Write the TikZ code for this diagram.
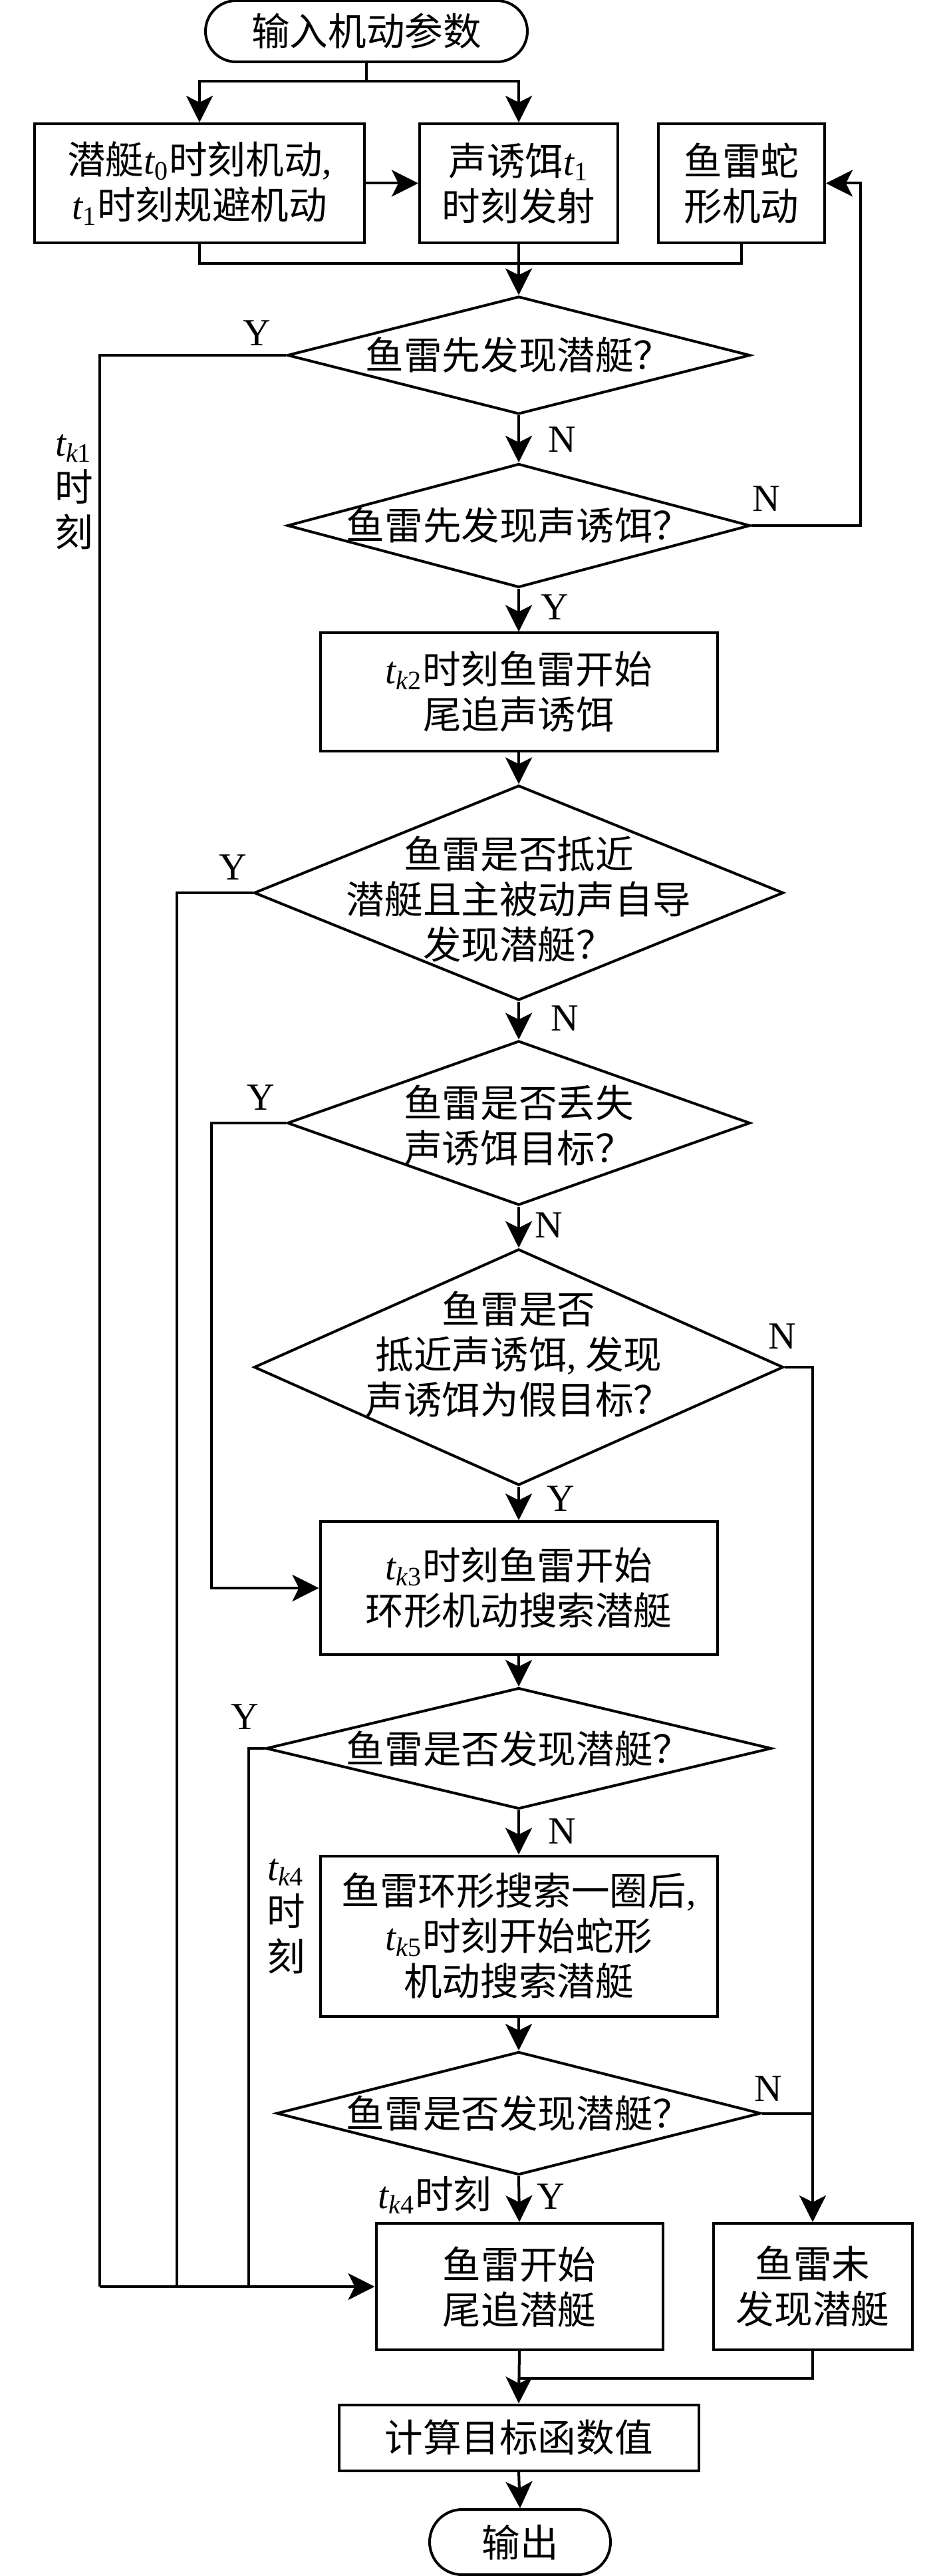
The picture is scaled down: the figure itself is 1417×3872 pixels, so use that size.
\documentclass[tikz,border=0pt]{standalone}
\usepackage{fontspec}
\setmainfont{Noto Sans CJK SC}
\newfontfamily\lat{Liberation Serif}
\usetikzlibrary{shapes.geometric,arrows.meta}
\newcommand\tsub[1]{{\lat\itshape t}\textsubscript{\lat #1}}
\begin{document}
\begin{tikzpicture}[x=0.25pt,y=-0.25pt,line width=1pt,
  >={Stealth[length=10pt,width=10pt,inset=2.5pt]},
  every node/.style={font=\fontsize{14.4pt}{17pt}\selectfont,inner sep=0pt},
  proc/.style={draw,rectangle,align=center},
  term/.style={draw,rectangle,rounded corners=11.5pt,align=center},
  dia/.style={draw,diamond},
  txt/.style={align=center},
  yn/.style={font=\fontsize{14.4pt}{17pt}\selectfont\lat}]
\useasboundingbox (0,0) rectangle (1417,3872);

% nodes
\node[term,minimum width=121pt,minimum height=23pt] (start) at (551,47) {输入机动参数};
\node[proc,minimum width=124pt,minimum height=44.75pt] (b1) at (300,275.5)
  {潜艇\tsub{0}时刻机动{\lat ,}\\\tsub{1}时刻规避机动};
\node[proc,minimum width=74.5pt,minimum height=44.75pt] (b2) at (780,275.5)
  {声诱饵\tsub{1}\\时刻发射};
\node[proc,minimum width=62.5pt,minimum height=44.75pt] (b3) at (1115,275.5)
  {鱼雷蛇\\形机动};

\node[dia,minimum width=174pt,minimum height=44.25pt] (d1) at (780,534) {};
\node[txt] (d1t) at (780,534) {鱼雷先发现潜艇？};
\node[dia,minimum width=174pt,minimum height=46.5pt] (d2) at (780,790) {};
\node[txt] (d2t) at (780,790) {鱼雷先发现声诱饵？};
\node[proc,minimum width=149.25pt,minimum height=44.25pt] (tk2) at (780,1040)
  {\tsub{\itshape k\upshape 2}时刻鱼雷开始\\尾追声诱饵};
\node[dia,minimum width=199pt,minimum height=80.75pt] (d3) at (780,1342) {};
\node[txt] (d3t) at (780,1352) {鱼雷是否抵近\\潜艇且主被动声自导\\发现潜艇？};
\node[dia,minimum width=174pt,minimum height=61.75pt] (d4) at (780,1688) {};
\node[txt] (d4t) at (780,1692) {鱼雷是否丢失\\声诱饵目标？};
\node[dia,minimum width=199pt,minimum height=88.75pt] (d5) at (780,2055) {};
\node[txt] (d5t) at (780,2036) {鱼雷是否\\抵近声诱饵{\lat ,} 发现\\声诱饵为假目标？};
\node[proc,minimum width=149.25pt,minimum height=50pt] (tk3) at (780,2387)
  {\tsub{\itshape k\upshape 3}时刻鱼雷开始\\环形机动搜索潜艇};
\node[dia,minimum width=190pt,minimum height=45.5pt] (d6) at (780,2628) {};
\node[txt] (d6t) at (780,2628) {鱼雷是否发现潜艇？};
\node[proc,minimum width=149.25pt,minimum height=60.25pt] (tk5) at (780,2910)
  {鱼雷环形搜索一圈后{\lat ,}\\\tsub{\itshape k\upshape 5}时刻开始蛇形\\机动搜索潜艇};
\node[dia,minimum width=182pt,minimum height=46.25pt] (d7) at (780,3176.5) {};
\node[txt] (d7t) at (780,3176.5) {鱼雷是否发现潜艇？};
\node[proc,minimum width=107.75pt,minimum height=47.5pt] (chase) at (781,3437)
  {鱼雷开始\\尾追潜艇};
\node[proc,minimum width=74.75pt,minimum height=47.5pt] (nf) at (1222,3437)
  {鱼雷未\\发现潜艇};
\node[proc,minimum width=135.25pt,minimum height=24.75pt] (comp) at (780,3664)
  {计算目标函数值};
\node[term,minimum width=68pt,minimum height=24.5pt,rounded corners=12.25pt] (end) at (782,3821) {输出};

% labels
\node[yn] (y1) at (386,501) {Y};
\node[yn] (n1) at (845,661) {N};
\node[yn] (n2) at (1152,750) {N};
\node[yn] (y2) at (834,913) {Y};
\node[yn] (y3) at (350,1304) {Y};
\node[yn] (n3) at (849,1531) {N};
\node[yn] (y4) at (392,1650) {Y};
\node[yn] (n4) at (825,1842) {N};
\node[yn] (n5) at (1176,2009) {N};
\node[yn] (y5) at (843,2253) {Y};
\node[yn] (y6) at (368,2581) {Y};
\node[yn] (n6) at (845,2753) {N};
\node[yn] (n7) at (1155,3140) {N};
\node[yn] (y7) at (828,3302) {Y};
\node[txt] (lk1) at (111,740) {\tsub{\itshape k\upshape 1}\\时\\刻};
\node[txt] (lk4) at (430,2880) {\tsub{\itshape k\upshape 4}\\时\\刻};
\node (lk4b) at (654,3299) {\tsub{\itshape k\upshape 4}时刻};

% connectors
\coordinate (sp) at (551,122);
\draw (start.south) -- (sp);
\draw[->] (sp) -| (b1.north);
\draw[->] (sp) -| (b2.north);
\draw[->] (b1.east) -- (b2.west);
\coordinate (m1) at (780,396);
\draw (b1.south) |- (m1);
\draw (b3.south) |- (m1);
\draw[->] (b2.south) -- (d1.north);

\coordinate (j1) at (150,3437);
\coordinate (j2) at (266,3437);
\coordinate (j3) at (374,3437);
\draw (d1.west) -| (j1);
\draw[->] (j1) -- (chase.west);
\draw[->] (d1.south) -- (d2.north);
\coordinate (r1) at (1294,275.5);
\draw[->] (d2.east) -| (r1) -- (b3.east);
\draw[->] (d2.south) -- (tk2.north);
\draw[->] (tk2.south) -- (d3.north);
\draw (d3.west) -| (j2);
\draw[->] (d3.south) -- (d4.north);
\coordinate (l4) at (318,2387);
\draw[->] (d4.west) -| (l4) -- (tk3.west);
\draw[->] (d4.south) -- (d5.north);
\coordinate (r2) at (1222,3176.5);
\draw (d5.east) -| (r2);
\draw (d7.east) -- (r2);
\draw[->] (r2) -- (nf.north);
\draw[->] (d5.south) -- (tk3.north);
\draw[->] (tk3.south) -- (d6.north);
\draw (d6.west) -| (j3);
\draw[->] (d6.south) -- (tk5.north);
\draw[->] (tk5.south) -- (d7.north);
\draw[->] (d7.south) -- (chase.north);
\coordinate (m2) at (781,3575);
\draw (nf.south) |- (m2);
\draw[->] (chase.south) -- (comp.north);
\draw[->] (comp.south) -- (end.north);
\end{tikzpicture}
\end{document}
